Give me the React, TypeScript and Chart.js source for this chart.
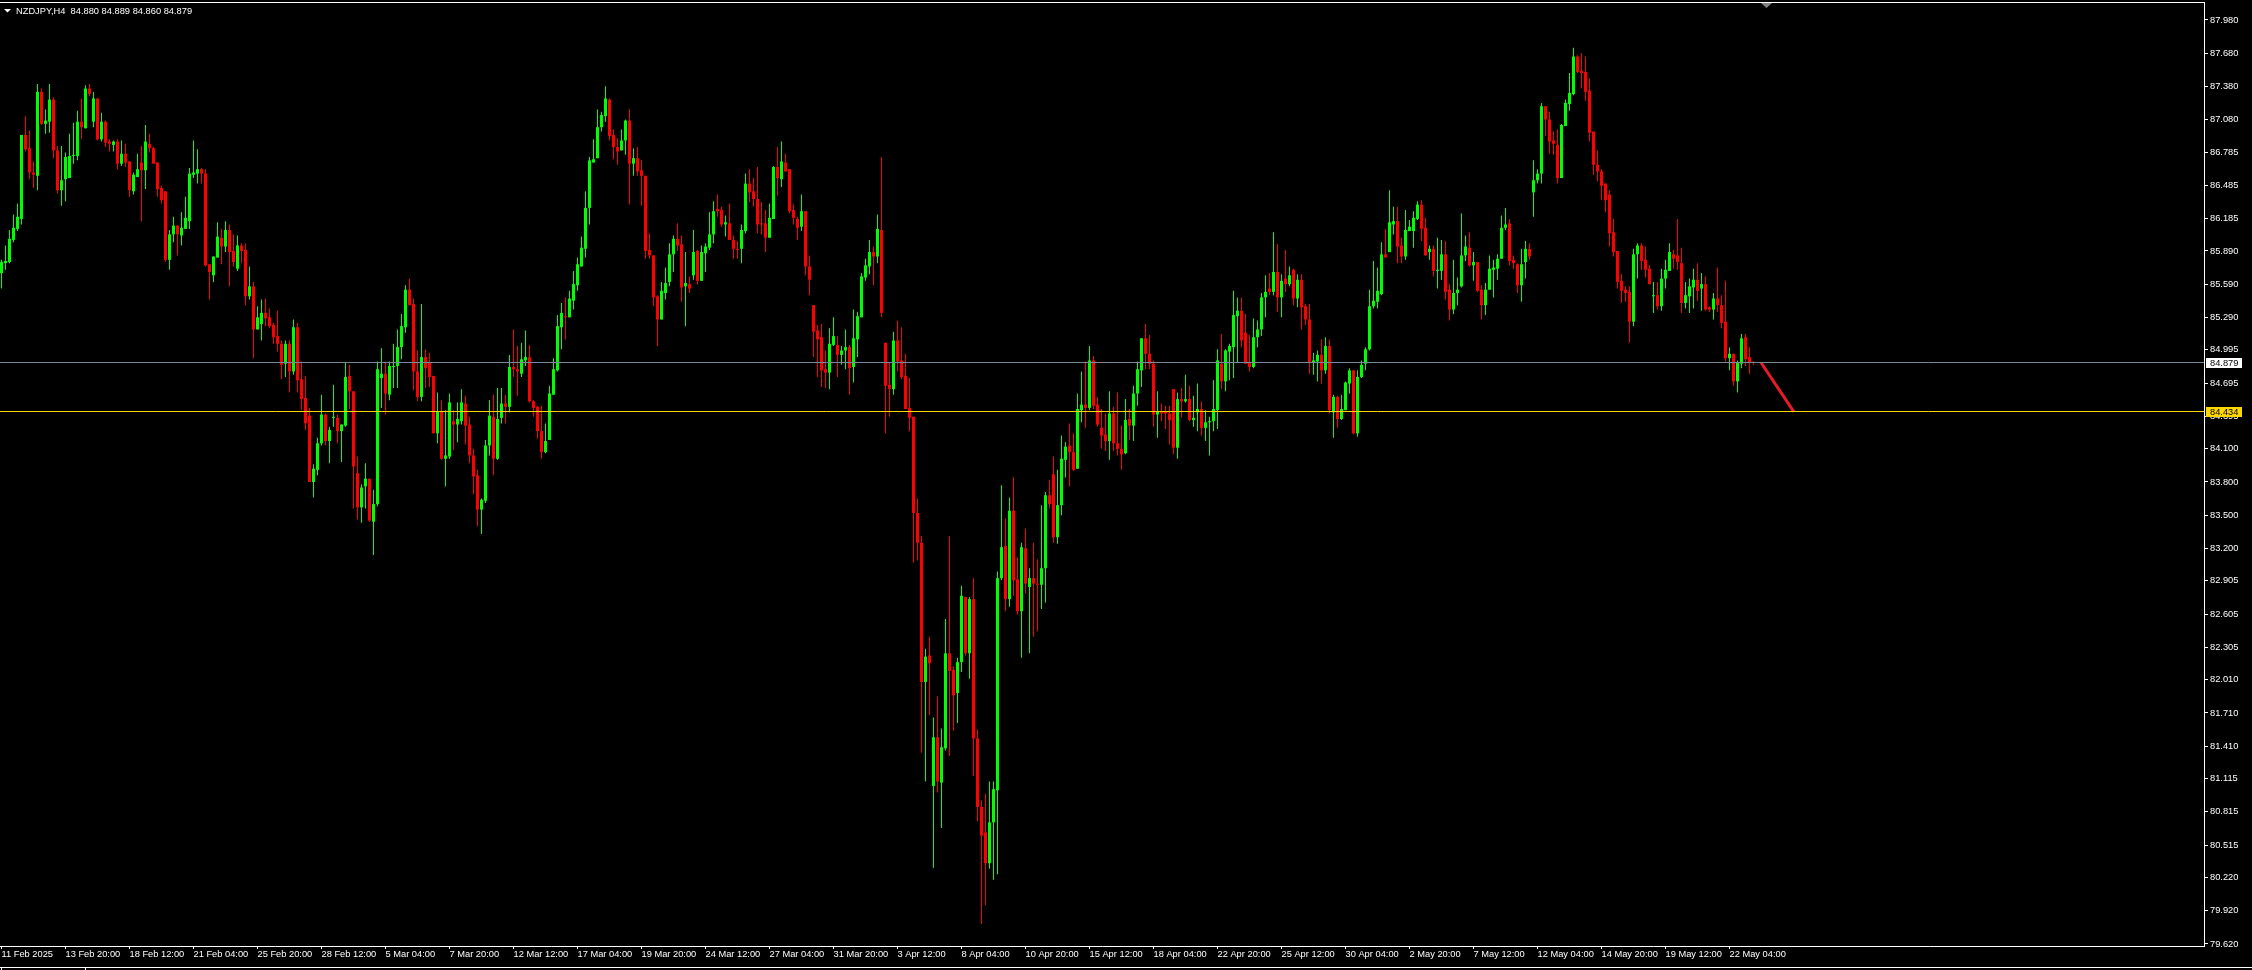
import React, { useEffect, useRef } from 'react';
import { Chart, registerables } from 'chart.js';

Chart.register(...registerables);

// ---------- header ----------
const headerText = 'NZDJPY,H4  84.880 84.889 84.860 84.879';

// ---------- time axis (one label every 16 H4 bars, first bar = 11 Feb 04:00) ----------
const barsPerTimeLabel = 16;
const timeLabels = [
  '11 Feb 2025', '13 Feb 20:00', '18 Feb 12:00', '21 Feb 04:00', '25 Feb 20:00', '28 Feb 12:00',
  '5 Mar 04:00', '7 Mar 20:00', '12 Mar 12:00', '17 Mar 04:00', '19 Mar 20:00', '24 Mar 12:00',
  '27 Mar 04:00', '31 Mar 20:00', '3 Apr 12:00', '8 Apr 04:00', '10 Apr 20:00', '15 Apr 12:00',
  '18 Apr 04:00', '22 Apr 20:00', '25 Apr 12:00', '30 Apr 04:00', '2 May 20:00', '7 May 12:00',
  '12 May 04:00', '14 May 20:00', '19 May 12:00', '22 May 04:00',
];

// ---------- price axis ----------
const priceTickLabels = [
  '87.980', '87.680', '87.380', '87.080', '86.785', '86.485', '86.185', '85.890', '85.590', '85.290',
  '84.995', '84.695', '84.395', '84.100', '83.800', '83.500', '83.200', '82.905', '82.605', '82.305',
  '82.010', '81.710', '81.410', '81.115', '80.815', '80.515', '80.220', '79.920', '79.620',
];
const priceMin = 79.6015;
const priceMax = 88.1338;
const barMin = -0.375;
const barMax = 550.625;

// ---------- OHLC ----------
const opens = [
  85.69, 85.78, 85.79, 85.99, 86.09, 86.18, 86.94, 86.82, 86.60, 86.57,
  87.33, 87.04, 87.06, 87.26, 86.80, 86.44, 86.54, 86.55, 86.75, 86.75,
  87.06, 87.00, 87.36, 87.06, 87.27, 86.90, 87.06, 86.88, 86.85, 86.88,
  86.68, 86.77, 86.70, 86.43, 86.56, 86.69, 86.62, 86.86, 86.82, 86.69,
  86.46, 86.43, 85.81, 86.04, 86.12, 86.03, 86.09, 86.16, 86.58, 86.59,
  86.63, 86.59, 85.77, 85.67, 85.83, 86.01, 85.93, 86.08, 85.89, 85.73,
  85.94, 85.90, 85.48, 85.57, 85.18, 85.23, 85.33, 85.29, 85.22, 85.12,
  85.05, 84.87, 85.05, 84.80, 85.20, 84.73, 84.56, 84.40, 83.80, 83.91,
  84.15, 84.41, 84.17, 84.38, 84.38, 84.26, 84.31, 84.76, 84.62, 83.88,
  83.57, 83.76, 83.83, 83.44, 83.60, 84.74, 84.78, 84.59, 84.84, 84.85,
  85.02, 85.20, 85.54, 85.41, 84.80, 84.57, 84.93, 84.88, 84.76, 84.24,
  84.44, 84.01, 84.03, 84.35, 84.32, 84.35, 84.51, 84.32, 84.04, 83.86,
  83.55, 83.63, 84.13, 84.39, 84.01, 84.38, 84.51, 84.48, 84.84, 84.82,
  84.78, 84.90, 84.93, 84.53, 84.48, 84.26, 84.07, 84.18, 84.59, 84.81,
  85.20, 85.30, 85.29, 85.44, 85.58, 85.75, 85.91, 86.28, 86.69, 86.73,
  87.01, 87.11, 87.26, 86.94, 86.83, 86.80, 86.89, 87.07, 86.68, 86.73,
  86.62, 86.57, 85.90, 85.85, 85.48, 85.27, 85.51, 85.61, 85.86, 86.00,
  85.95, 85.57, 85.59, 85.67, 85.89, 85.62, 85.87, 85.92, 86.04, 86.27,
  86.26, 86.13, 86.14, 85.99, 85.91, 85.91, 86.07, 86.50, 86.43, 86.36,
  86.14, 86.14, 86.01, 86.18, 86.65, 86.54, 86.69, 86.63, 86.26, 86.18,
  86.11, 86.25, 85.75, 85.40, 85.17, 85.11, 84.82, 84.79, 85.04, 85.04,
  84.95, 84.99, 85.02,
  84.84, 85.09, 85.29, 85.65, 85.75, 85.88, 85.84, 86.08, 85.06, 84.68,
  84.64, 85.08, 84.90, 84.76, 84.47, 84.39, 83.52, 83.25, 81.99, 82.23,
  81.05, 81.49, 81.08, 81.39, 82.25, 82.10, 81.89, 82.17, 82.76, 82.25,
  82.74, 81.48, 80.86, 80.63, 80.35, 80.72, 81.01, 82.93, 83.22, 82.74,
  83.54, 82.92, 82.63, 83.20, 82.85, 82.93, 82.88, 82.87, 83.02, 83.68,
  83.87, 83.30, 83.59, 84.00, 84.13, 84.07, 83.92, 84.45, 84.50, 84.47,
  84.90, 84.50, 84.29, 84.23, 84.17, 84.42, 84.15, 84.10, 84.06, 84.37,
  84.31, 84.60, 84.81, 85.10, 84.96, 84.87, 84.41, 84.44, 84.44, 84.42,
  84.64, 84.11, 84.55, 84.53, 84.55, 84.36, 84.43, 84.46, 84.29, 84.34,
  84.35, 84.45, 84.87, 84.71, 84.98, 85.02, 85.30, 85.35, 85.15, 84.88,
  84.84, 85.11, 85.18, 85.47, 85.55, 85.52, 85.70, 85.47, 85.64, 85.59,
  85.72, 85.46,
  85.63, 85.39, 85.27, 84.88, 84.89, 84.95, 84.81, 85.03, 84.43, 84.57,
  84.37, 84.45, 84.69, 84.81, 84.24, 84.75, 84.87, 85.00, 85.39, 85.43,
  85.50, 85.86, 85.88, 86.13, 86.16, 85.94, 85.84, 86.07, 86.07, 86.18,
  86.31, 86.10, 85.88, 85.91, 85.71, 85.71, 85.86, 85.54, 85.36, 85.51,
  85.57, 85.85, 85.92, 85.76, 85.79, 85.54, 85.40, 85.54, 85.72, 85.73,
  85.82, 86.10, 86.14, 85.81, 85.77, 85.58, 85.79, 85.91, 86.42, 86.53,
  86.59, 87.20, 87.08, 86.89, 86.85, 86.55, 87.02, 87.22, 87.31, 87.65,
  87.52, 87.51, 87.34, 86.97, 86.67, 86.61, 86.50, 86.40, 86.06, 85.89,
  85.62, 85.54, 85.52, 85.25, 85.86, 85.94, 85.81, 85.73, 85.48, 85.49,
  85.39, 85.64, 85.71, 85.86, 85.85, 85.78, 85.42, 85.48, 85.56, 85.63,
  85.55, 85.59, 85.38, 85.36, 85.46, 85.40, 85.25, 84.92, 84.96, 84.71,
  84.87, 85.11, 84.93, 84.880,
];

const highs = [
  85.81, 85.94, 86.08, 86.22, 86.32, 86.94, 87.11, 86.98, 86.70, 87.40,
  87.36, 87.17, 87.40, 87.28, 86.84, 86.84, 86.78, 86.95, 87.05, 87.16,
  87.27, 87.39, 87.40, 87.33, 87.27, 87.14, 87.07, 86.90, 86.89, 86.90,
  86.89, 86.86, 86.70, 86.60, 86.77, 86.84, 87.03, 86.95, 86.83, 86.69,
  86.48, 86.43, 86.08, 86.20, 86.12, 86.24, 86.38, 86.64, 86.89, 86.81,
  86.64, 86.63, 85.77, 85.84, 86.15, 86.09, 86.16, 86.13, 86.04, 86.03,
  85.96, 85.96, 85.75, 85.61, 85.39, 85.45, 85.46, 85.37, 85.24, 85.35,
  85.08, 85.08, 85.08, 85.27, 85.24, 84.89, 84.76, 84.47, 83.96, 84.20,
  84.59, 84.42, 84.30, 84.68, 84.41, 84.32, 84.88, 84.86, 84.62, 84.03,
  83.78, 83.97, 83.83, 83.73, 84.89, 85.01, 84.89, 84.89, 85.05, 85.18,
  85.32, 85.58, 85.64, 85.46, 84.99, 85.41, 85.00, 84.97, 84.76, 84.61,
  84.54, 84.45, 84.60, 84.45, 84.52, 84.64, 84.58, 84.39, 84.10, 83.91,
  83.65, 84.18, 84.54, 84.59, 84.65, 84.65, 84.59, 84.95, 85.18, 85.03,
  85.06, 85.17, 85.04, 84.54, 84.49, 84.49, 84.33, 84.67, 84.92, 85.31,
  85.42, 85.47, 85.53, 85.71, 85.83, 86.02, 86.43, 86.74, 86.90, 87.17,
  87.15, 87.38, 87.27, 86.99, 86.91, 86.99, 87.08, 87.17, 86.82, 86.83,
  86.71, 86.57, 86.05, 85.85, 85.49, 85.61, 85.74, 85.96, 86.03, 86.14,
  86.03, 85.88, 85.66, 86.08, 85.90, 85.94, 85.96, 86.24, 86.34, 86.40,
  86.29, 86.21, 86.32, 86.03, 85.98, 86.13, 86.59, 86.63, 86.55, 86.65,
  86.33, 86.26, 86.32, 86.66, 86.83, 86.88, 86.77, 86.63, 86.31, 86.20,
  86.40, 86.25, 85.85, 85.40, 85.22, 85.23, 84.99, 85.19, 85.29, 85.12,
  85.03, 85.18, 85.04,
  85.36, 85.34, 85.69, 85.82, 85.99, 85.93, 86.22, 86.74, 85.06, 84.88,
  85.16, 85.26, 85.20, 84.96, 84.74, 84.39, 83.65, 83.31, 82.29, 82.40,
  81.67, 81.86, 81.57, 82.56, 83.31, 82.13, 82.21, 82.86, 82.76, 82.76,
  82.93, 81.56, 80.92, 80.98, 81.09, 81.09, 82.99, 83.77, 83.47, 83.66,
  83.84, 83.12, 83.25, 83.38, 83.02, 83.25, 83.10, 83.59, 83.71, 83.82,
  84.03, 83.91, 84.22, 84.16, 84.33, 84.24, 84.60, 84.80, 84.89, 85.03,
  84.94, 84.57, 84.46, 84.42, 84.62, 84.48, 84.61, 84.31, 84.55, 84.46,
  84.67, 84.89, 85.10, 85.23, 85.13, 84.90, 84.62, 84.51, 84.49, 84.49,
  84.64, 84.61, 84.65, 84.77, 84.67, 84.58, 84.69, 84.53, 84.45, 84.39,
  84.72, 85.00, 85.14, 85.00, 85.05, 85.53, 85.47, 85.47, 85.32, 85.13,
  85.28, 85.26, 85.51, 85.67, 85.69, 86.06, 85.95, 85.68, 85.90, 85.75,
  85.73, 85.68,
  85.68, 85.41, 85.41, 84.97, 84.99, 85.09, 85.11, 85.09, 84.59, 84.58,
  84.59, 84.71, 84.83, 84.81, 84.81, 84.90, 85.02, 85.54, 85.80, 85.74,
  85.97, 86.09, 86.44, 86.29, 86.29, 86.01, 86.26, 86.17, 86.25, 86.34,
  86.35, 86.19, 85.94, 85.94, 86.01, 85.99, 85.98, 85.59, 85.81, 85.65,
  86.23, 86.03, 86.06, 85.88, 85.79, 85.58, 85.60, 85.85, 85.81, 85.86,
  86.21, 86.28, 86.18, 85.85, 85.78, 85.91, 85.98, 85.96, 86.71, 86.63,
  87.23, 87.20, 87.15, 86.97, 86.99, 87.04, 87.26, 87.50, 87.73, 87.66,
  87.68, 87.65, 87.45, 86.97, 86.80, 86.63, 86.50, 86.44, 86.18, 85.89,
  85.68, 85.57, 85.57, 85.91, 85.96, 85.96, 85.93, 85.76, 85.61, 85.61,
  85.73, 85.81, 85.96, 85.90, 86.18, 85.92, 85.61, 85.64, 85.73, 85.78,
  85.69, 85.66, 85.39, 85.51, 85.74, 85.49, 85.62, 85.02, 84.96, 84.90,
  85.14, 85.14, 85.02, 84.889,
];

const lows = [
  85.55, 85.72, 85.78, 85.97, 86.07, 86.13, 86.79, 86.54, 86.46, 86.44,
  87.03, 86.95, 86.96, 86.73, 86.41, 86.30, 86.34, 86.55, 86.68, 86.71,
  86.90, 87.00, 87.29, 87.01, 86.89, 86.88, 86.83, 86.79, 86.79, 86.63,
  86.66, 86.65, 86.38, 86.40, 86.56, 86.16, 86.45, 86.78, 86.68, 86.38,
  86.32, 85.79, 85.72, 85.97, 85.85, 85.94, 86.09, 86.09, 86.55, 86.50,
  86.50, 85.75, 85.45, 85.61, 85.83, 85.77, 85.88, 85.57, 85.75, 85.71,
  85.78, 85.40, 85.45, 84.92, 85.18, 85.08, 85.21, 85.19, 85.05, 84.98,
  84.73, 84.75, 84.61, 84.77, 84.61, 84.45, 84.27, 83.80, 83.66, 83.86,
  84.13, 84.13, 83.97, 84.30, 84.15, 83.98, 84.30, 84.46, 83.56, 83.46,
  83.43, 83.56, 83.44, 83.14, 83.58, 84.47, 84.41, 84.54, 84.65, 84.65,
  84.91, 85.15, 85.40, 84.63, 84.53, 84.53, 84.65, 84.66, 84.24, 84.15,
  84.00, 83.76, 84.01, 84.09, 84.16, 84.32, 84.14, 83.97, 83.69, 83.40,
  83.33, 83.61, 84.04, 83.86, 84.00, 84.33, 84.33, 84.43, 84.75, 84.58,
  84.75, 84.85, 84.52, 84.39, 84.19, 84.01, 84.06, 84.18, 84.59, 84.80,
  85.00, 85.09, 85.29, 85.36, 85.53, 85.75, 85.83, 86.13, 86.69, 86.73,
  86.97, 87.06, 86.89, 86.72, 86.67, 86.80, 86.76, 86.31, 86.57, 86.57,
  86.30, 85.82, 85.82, 85.39, 85.03, 85.27, 85.45, 85.57, 85.70, 85.89,
  85.43, 85.21, 85.51, 85.63, 85.59, 85.62, 85.70, 85.90, 85.96, 86.20,
  86.11, 86.02, 85.99, 85.82, 85.82, 85.78, 86.05, 86.33, 86.29, 86.05,
  86.04, 85.88, 86.01, 86.18, 86.39, 86.47, 86.61, 86.23, 86.13, 85.99,
  86.07, 85.67, 85.49, 84.93, 84.75, 84.66, 84.65, 84.64, 85.03, 84.75,
  84.86, 84.82, 84.59,
  84.70, 84.93, 85.29, 85.62, 85.68, 85.58, 85.78, 85.29, 84.24, 84.39,
  84.59, 84.80, 84.73, 84.46, 84.26, 83.07, 83.09, 81.35, 81.09, 81.69,
  80.31, 80.99, 80.67, 81.37, 81.32, 81.55, 81.62, 82.08, 82.23, 82.02,
  81.14, 80.73, 79.80, 79.97, 80.30, 80.20, 80.25, 82.91, 82.63, 82.67,
  82.77, 82.60, 82.21, 82.79, 82.25, 82.40, 82.45, 82.65, 82.71, 83.56,
  83.25, 83.24, 83.50, 83.84, 83.76, 83.90, 83.92, 84.34, 84.29, 84.45,
  84.46, 84.30, 84.10, 84.08, 84.00, 84.08, 84.04, 83.91, 84.05, 84.18,
  84.17, 84.49, 84.66, 84.82, 84.82, 84.30, 84.20, 84.35, 84.28, 84.14,
  84.05, 84.01, 84.38, 84.52, 84.35, 84.30, 84.26, 84.22, 84.17, 84.04,
  84.26, 84.28, 84.64, 84.62, 84.72, 84.74, 84.88, 85.02, 84.87, 84.80,
  84.83, 85.02, 85.12, 85.29, 85.49, 85.49, 85.34, 85.29, 85.52, 85.57,
  85.40, 85.38,
  85.18, 85.22, 84.78, 84.77, 84.71, 84.69, 84.78, 84.42, 84.20, 84.29,
  84.36, 84.45, 84.60, 84.23, 84.21, 84.74, 84.81, 84.99, 85.37, 85.37,
  85.49, 85.83, 85.88, 86.04, 85.78, 85.78, 85.81, 86.07, 85.92, 86.17,
  85.98, 85.85, 85.81, 85.66, 85.55, 85.63, 85.45, 85.26, 85.32, 85.40,
  85.56, 85.80, 85.75, 85.62, 85.52, 85.27, 85.31, 85.54, 85.47, 85.63,
  85.82, 86.08, 85.76, 85.73, 85.51, 85.43, 85.64, 85.81, 86.20, 86.50,
  86.50, 86.93, 86.77, 86.76, 86.50, 86.55, 87.02, 87.16, 87.30, 87.50,
  87.36, 87.25, 86.88, 86.58, 86.52, 86.35, 86.24, 85.93, 85.84, 85.55,
  85.42, 85.43, 85.06, 85.21, 85.64, 85.72, 85.65, 85.59, 85.33, 85.36,
  85.35, 85.55, 85.71, 85.73, 85.72, 85.33, 85.37, 85.33, 85.37, 85.44,
  85.35, 85.35, 85.34, 85.27, 85.34, 85.19, 84.89, 84.81, 84.67, 84.61,
  84.83, 84.85, 84.78, 84.860,
];

const closes = [
  85.79, 85.80, 86.00, 86.10, 86.20, 86.94, 86.81, 86.60, 86.58, 87.33,
  87.04, 87.07, 87.26, 86.80, 86.44, 86.53, 86.74, 86.75, 86.76, 87.06,
  87.01, 87.36, 87.31, 87.27, 86.90, 87.06, 86.87, 86.86, 86.88, 86.68,
  86.77, 86.69, 86.44, 86.58, 86.63, 86.62, 86.88, 86.82, 86.68, 86.45,
  86.35, 85.81, 86.04, 86.12, 86.04, 86.10, 86.19, 86.59, 86.60, 86.63,
  86.59, 85.76, 85.70, 85.84, 86.02, 85.93, 86.08, 85.88, 85.79, 85.94,
  85.89, 85.48, 85.57, 85.18, 85.29, 85.33, 85.28, 85.21, 85.11, 85.05,
  84.86, 85.05, 84.80, 85.20, 84.72, 84.55, 84.33, 83.80, 83.92, 84.15,
  84.41, 84.17, 84.27, 84.39, 84.26, 84.32, 84.75, 84.62, 83.94, 83.57,
  83.75, 83.83, 83.45, 83.60, 84.82, 84.78, 84.60, 84.85, 84.85, 85.02,
  85.21, 85.54, 85.40, 84.80, 84.57, 84.93, 84.83, 84.75, 84.24, 84.44,
  84.01, 84.04, 84.52, 84.32, 84.37, 84.52, 84.31, 84.04, 83.85, 83.55,
  83.64, 84.13, 84.40, 84.01, 84.37, 84.51, 84.48, 84.84, 84.82, 84.80,
  84.91, 84.93, 84.53, 84.47, 84.26, 84.07, 84.17, 84.60, 84.82, 85.21,
  85.33, 85.29, 85.46, 85.59, 85.77, 85.92, 86.28, 86.71, 86.72, 87.01,
  87.12, 87.27, 86.93, 86.83, 86.79, 86.89, 87.07, 86.68, 86.73, 86.61,
  86.57, 85.89, 85.85, 85.47, 85.27, 85.53, 85.60, 85.86, 86.00, 85.94,
  85.56, 85.60, 85.55, 85.88, 85.62, 85.88, 85.93, 86.04, 86.25, 86.25,
  86.13, 86.15, 85.99, 85.91, 85.90, 86.08, 86.50, 86.42, 86.36, 86.13,
  86.13, 86.01, 86.19, 86.65, 86.55, 86.70, 86.61, 86.25, 86.19, 86.10,
  86.25, 85.75, 85.63, 85.16, 85.09, 84.81, 84.79, 85.05, 85.12, 84.95,
  84.99, 85.02, 84.83,
  85.10, 85.30, 85.66, 85.76, 85.88, 85.84, 86.09, 85.33, 84.67, 84.64,
  85.08, 84.89, 84.75, 84.46, 84.38, 83.52, 83.25, 81.99, 82.22, 82.16,
  81.49, 81.09, 81.40, 82.25, 82.09, 81.87, 82.17, 82.77, 82.25, 82.74,
  81.48, 80.86, 80.60, 80.35, 80.72, 81.02, 82.93, 83.21, 82.74, 83.54,
  82.91, 82.63, 83.21, 82.88, 82.93, 82.88, 82.87, 83.02, 83.68, 83.60,
  83.30, 83.59, 84.01, 84.12, 84.07, 83.91, 84.46, 84.50, 84.47, 84.90,
  84.49, 84.32, 84.22, 84.17, 84.42, 84.15, 84.10, 84.05, 84.36, 84.31,
  84.60, 84.82, 85.10, 84.96, 84.87, 84.41, 84.44, 84.42, 84.42, 84.36,
  84.11, 84.55, 84.53, 84.55, 84.36, 84.38, 84.46, 84.29, 84.34, 84.35,
  84.46, 84.90, 84.71, 84.99, 85.03, 85.31, 85.35, 85.08, 84.87, 84.84,
  85.11, 85.18, 85.47, 85.52, 85.52, 85.70, 85.47, 85.62, 85.59, 85.67,
  85.46, 85.63,
  85.38, 85.27, 84.88, 84.90, 84.95, 84.81, 85.03, 84.45, 84.57, 84.37,
  84.46, 84.70, 84.81, 84.24, 84.75, 84.86, 85.00, 85.39, 85.44, 85.53,
  85.86, 85.83, 86.15, 86.16, 85.93, 85.84, 86.08, 86.11, 86.19, 86.31,
  86.09, 85.85, 85.91, 85.71, 85.72, 85.86, 85.52, 85.36, 85.51, 85.54,
  85.85, 85.93, 85.76, 85.79, 85.53, 85.40, 85.54, 85.73, 85.74, 85.82,
  86.10, 86.13, 85.80, 85.78, 85.58, 85.77, 85.91, 85.84, 86.53, 86.59,
  87.20, 87.08, 86.88, 86.86, 86.55, 87.03, 87.23, 87.32, 87.65, 87.51,
  87.50, 87.33, 86.96, 86.67, 86.61, 86.48, 86.35, 86.05, 85.88, 85.61,
  85.53, 85.51, 85.25, 85.86, 85.94, 85.80, 85.72, 85.59, 85.49, 85.39,
  85.64, 85.72, 85.88, 85.82, 85.79, 85.42, 85.49, 85.57, 85.63, 85.53,
  85.59, 85.36, 85.36, 85.46, 85.40, 85.24, 84.92, 84.96, 84.71, 84.88,
  85.10, 84.91, 84.88, 84.879,
];

// ---------- horizontal levels and trend line ----------
const bidPrice = 84.879;
const bidLabel = '84.879';
const levelPrice = 84.434;
const levelLabel = '84.434';
const trendBars = [439.9, 448.1];
const trendPrices = [84.879, 84.434];

const BULL = '#00FF00';
const BEAR = '#FF0000';
const FONT_FAMILY = 'Liberation Sans';
const FONT_SIZE = 9.3;

const mt4Plugin = {
  id: 'mt4Decor',
  beforeDraw(chart: any) {
    const { ctx, width, height } = chart;
    ctx.save();
    ctx.fillStyle = '#000000';
    ctx.fillRect(0, 0, width, height);
    ctx.restore();
  },
  afterDatasetsDraw(chart: any) {
    const { ctx, chartArea } = chart;
    const ys = chart.scales.y;
    ctx.save();
    const lines = [
      { p: bidPrice, c: '#778899' },
      { p: levelPrice, c: '#FFD700' },
    ];
    lines.forEach((l) => {
      const py = Math.round(ys.getPixelForValue(l.p) - 0.5) + 0.5;
      ctx.strokeStyle = l.c;
      ctx.lineWidth = 1;
      ctx.beginPath();
      ctx.moveTo(chartArea.left, py);
      ctx.lineTo(chartArea.right, py);
      ctx.stroke();
    });
    ctx.restore();
  },
  afterDraw(chart: any) {
    const { ctx, chartArea, width } = chart;
    const ys = chart.scales.y;
    ctx.save();
    // frame top line
    ctx.fillStyle = '#FFFFFF';
    ctx.fillRect(0, 2, chartArea.right + 1, 1);
    ctx.fillRect(chartArea.right, 2, 1, chartArea.top - 1);
    // header
    ctx.beginPath();
    ctx.moveTo(4, 9);
    ctx.lineTo(11, 9);
    ctx.lineTo(7.5, 12.5);
    ctx.closePath();
    ctx.fill();
    ctx.font = `${FONT_SIZE}px ${FONT_FAMILY}`;
    ctx.textBaseline = 'middle';
    ctx.textAlign = 'left';
    ctx.fillText(headerText, 16, 11);
    // shift marker
    ctx.fillStyle = '#808080';
    ctx.beginPath();
    ctx.moveTo(1761, 3);
    ctx.lineTo(1772, 3);
    ctx.lineTo(1766.5, 8);
    ctx.closePath();
    ctx.fill();
    // price boxes on the axis
    const boxes = [
      { p: bidPrice, t: bidLabel, bg: '#FFFFFF' },
      { p: levelPrice, t: levelLabel, bg: '#FFD700' },
    ];
    boxes.forEach((b) => {
      const row = Math.round(ys.getPixelForValue(b.p) - 0.5);
      ctx.fillStyle = b.bg;
      ctx.fillRect(chartArea.right + 2, row - 4, 36, 10);
      ctx.fillStyle = '#000000';
      ctx.font = `${FONT_SIZE}px ${FONT_FAMILY}`;
      ctx.textBaseline = 'middle';
      ctx.fillText(b.t, chartArea.right + 6, row + 1);
    });
    // window bottom strip
    ctx.fillStyle = '#FFFFFF';
    ctx.fillRect(0, 967, width, 1);
    ctx.strokeStyle = '#FFFFFF';
    ctx.lineWidth = 1;
    ctx.strokeRect(1.5, 967.5, 84, 4);
    ctx.restore();
  },
};

export default function App() {
  const canvasRef = useRef<HTMLCanvasElement | null>(null);

  useEffect(() => {
    document.body.style.margin = '0';
    document.body.style.background = '#000000';
    document.body.style.overflow = 'hidden';
    const canvas = canvasRef.current;
    if (!canvas) return;

    const idx = opens.map((_, i) => i);
    const colors = idx.map((i) => (closes[i] >= opens[i] ? BULL : BEAR));
    const bodyData = idx.map((i) => ({ x: i, y: [opens[i], closes[i]] }));
    const wickData = idx.map((i) => ({ x: i, y: [lows[i], highs[i]] }));
    const trendData = trendBars.map((b, k) => ({ x: b, y: trendPrices[k] }));
    const priceTicks = priceTickLabels.map(Number);

    const chart = new Chart(canvas, {
      type: 'bar',
      data: {
        datasets: [
          {
            type: 'line',
            data: trendData,
            borderColor: 'rgb(232,28,36)',
            borderWidth: 3,
            pointRadius: 0,
            order: 0,
          } as any,
          {
            data: bodyData,
            backgroundColor: colors,
            barThickness: 3,
            grouped: false,
            minBarLength: 1,
            inflateAmount: 0,
            borderWidth: 0,
            order: 1,
          } as any,
          {
            data: wickData,
            backgroundColor: colors,
            barThickness: 1,
            grouped: false,
            minBarLength: 1,
            inflateAmount: 0,
            borderWidth: 0,
            order: 2,
          } as any,
        ],
      },
      options: {
        responsive: false,
        maintainAspectRatio: false,
        devicePixelRatio: 1,
        animation: false,
        events: [],
        layout: { padding: { top: 3, left: 0, right: 0, bottom: 0 } },
        plugins: {
          legend: { display: false },
          tooltip: { enabled: false },
          title: { display: false },
        },
        scales: {
          x: {
            type: 'linear',
            min: barMin,
            max: barMax,
            offset: false,
            bounds: 'data',
            grid: {
              display: true,
              offset: false,
              drawOnChartArea: false,
              drawTicks: true,
              tickLength: 3,
              tickColor: '#FFFFFF',
              tickWidth: 1,
            },
            border: { display: true, color: '#FFFFFF', width: 1 },
            ticks: {
              autoSkip: false,
              maxRotation: 0,
              minRotation: 0,
              align: 'start',
              padding: 0,
              color: '#FFFFFF',
              font: { family: FONT_FAMILY, size: FONT_SIZE },
              callback: (_v: any, i: number) => timeLabels[i],
            },
            afterBuildTicks: (s: any) => {
              s.ticks = timeLabels.map((_, k) => ({ value: k * barsPerTimeLabel }));
            },
            afterFit: (s: any) => {
              s.height = 24;
              s.paddingLeft = 0;
              s.paddingRight = 0;
            },
          },
          y: {
            type: 'linear',
            position: 'right',
            min: priceMin,
            max: priceMax,
            bounds: 'data',
            beginAtZero: false,
            grid: {
              display: true,
              drawOnChartArea: false,
              drawTicks: true,
              tickLength: 4,
              tickColor: '#FFFFFF',
              tickWidth: 1,
            },
            border: { display: true, color: '#FFFFFF', width: 1 },
            ticks: {
              autoSkip: false,
              padding: 2,
              color: '#FFFFFF',
              font: { family: FONT_FAMILY, size: FONT_SIZE },
              callback: (_v: any, i: number) => priceTickLabels[i],
            },
            afterBuildTicks: (s: any) => {
              s.ticks = priceTicks.map((v) => ({ value: v }));
            },
            afterFit: (s: any) => {
              s.width = 48;
              s.paddingTop = 0;
              s.paddingBottom = 0;
            },
          },
        },
      } as any,
      plugins: [mt4Plugin],
    });

    return () => chart.destroy();
  }, []);

  return (
    <canvas
      ref={canvasRef}
      width={2252}
      height={970}
      style={{ display: 'block', width: '2252px', height: '970px' }}
    />
  );
}
